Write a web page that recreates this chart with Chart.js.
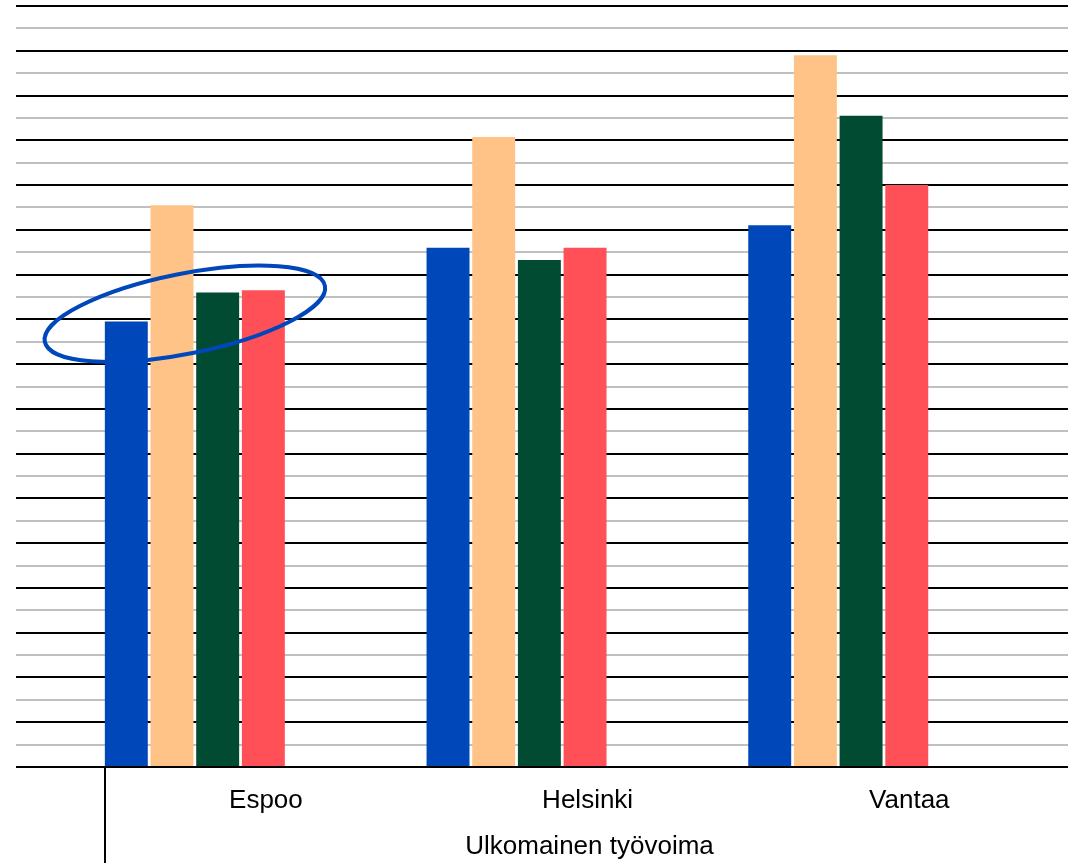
<!DOCTYPE html>
<html>
<head>
<meta charset="utf-8">
<script src="https://cdn.jsdelivr.net/npm/chart.js@4"></script>
<style>
  html, body { margin: 0; padding: 0; background: #ffffff; }
  #wrap { width: 1068px; height: 863px; position: relative; }
</style>
</head>
<body>
<div id="wrap"><canvas id="c"></canvas></div>
<script>
// ---- data ----
const categories = ["Espoo", "Helsinki", "Vantaa"];
const groupLabel = "Ulkomainen työvoima";
const seriesBlue   = [19.9, 23.2, 24.2];
const seriesOrange = [25.1, 28.15, 31.8];
const seriesGreen  = [21.2, 22.65, 29.1];
const seriesRed    = [21.3, 23.2, 26.0];
const yMin = 0, yMax = 34;
// category labels sit centred in slots that start at the group separator
const labelShift = 0.221;

// highlight ellipse (in data units) around the Espoo group
const ellipse = { cx: -0.031, cy: 20.25, rx: 0.444, ryPx: 40, angleDeg: -11.3 };

const toPoints = arr => arr.map((v, i) => ({ x: i, y: v }));

const extrasPlugin = {
  id: 'extras',
  afterDatasetsDraw(chart) {
    const ctx = chart.ctx;
    const xs = chart.scales.x, ys = chart.scales.y;
    const cx = xs.getPixelForValue(ellipse.cx);
    const cy = ys.getPixelForValue(ellipse.cy);
    const rx = Math.abs(xs.getPixelForValue(ellipse.cx + ellipse.rx) - cx);
    ctx.save();
    ctx.beginPath();
    ctx.ellipse(cx, cy, rx, ellipse.ryPx, ellipse.angleDeg * Math.PI / 180, 0, Math.PI * 2);
    ctx.strokeStyle = '#0047BB';
    ctx.lineWidth = 4;
    ctx.stroke();
    ctx.restore();
  },
  afterDraw(chart) {
    const ctx = chart.ctx;
    const area = chart.chartArea;
    const meta = chart.getDatasetMeta(0);
    const bar = meta.data[0];
    const sepX = Math.round(bar.x - bar.width / 2);
    ctx.save();
    ctx.beginPath();
    ctx.moveTo(sepX, area.bottom);
    ctx.lineTo(sepX, chart.height);
    ctx.strokeStyle = '#000000';
    ctx.lineWidth = 2;
    ctx.stroke();
    ctx.fillStyle = '#000000';
    ctx.font = '26px "Liberation Sans", Arial, sans-serif';
    ctx.textAlign = 'center';
    ctx.textBaseline = 'middle';
    ctx.fillText(groupLabel, (sepX + area.right) / 2 + 3, 847);
    ctx.restore();
  }
};

new Chart(document.getElementById('c'), {
  type: 'bar',
  data: {
    datasets: [
      { label: 'a', data: toPoints(seriesBlue),   backgroundColor: '#0047BA' },
      { label: 'b', data: toPoints(seriesOrange), backgroundColor: '#FFC387' },
      { label: 'c', data: toPoints(seriesGreen),  backgroundColor: '#004B32' },
      { label: 'd', data: toPoints(seriesRed),    backgroundColor: '#FF5058' }
    ]
  },
  options: {
    responsive: true,
    maintainAspectRatio: false,
    animation: false,
    devicePixelRatio: 1,
    categoryPercentage: 0.568,
    barPercentage: 0.94,
    layout: { padding: { left: 16, right: 0, top: 6, bottom: 0 } },
    plugins: { legend: { display: false }, tooltip: { enabled: false } },
    scales: {
      x: {
        type: 'linear',
        offset: false,
        min: -0.5559,
        max: 2.7142,
        grid: { display: false, drawTicks: false, offset: false },
        border: { display: false },
        afterBuildTicks: s => { s.ticks = categories.map((c, i) => ({ value: i + labelShift })); },
        afterFit: s => { s.height = 96; },
        ticks: {
          padding: 18,
          color: '#000000',
          font: { family: '"Liberation Sans", Arial, sans-serif', size: 26 },
          callback: v => categories[Math.round(v - labelShift)] ?? ''
        }
      },
      y: {
        min: yMin,
        max: yMax,
        grid: {
          drawTicks: false,
          lineWidth: 2,
          color: c => (c.tick && c.tick.value % 2 === 0) ? '#000000' : '#c0c0c0'
        },
        border: { display: false },
        ticks: { display: false, stepSize: 1 },
        afterFit: s => { s.width = 0; }
      }
    }
  },
  plugins: [extrasPlugin]
});
</script>
</body>
</html>
